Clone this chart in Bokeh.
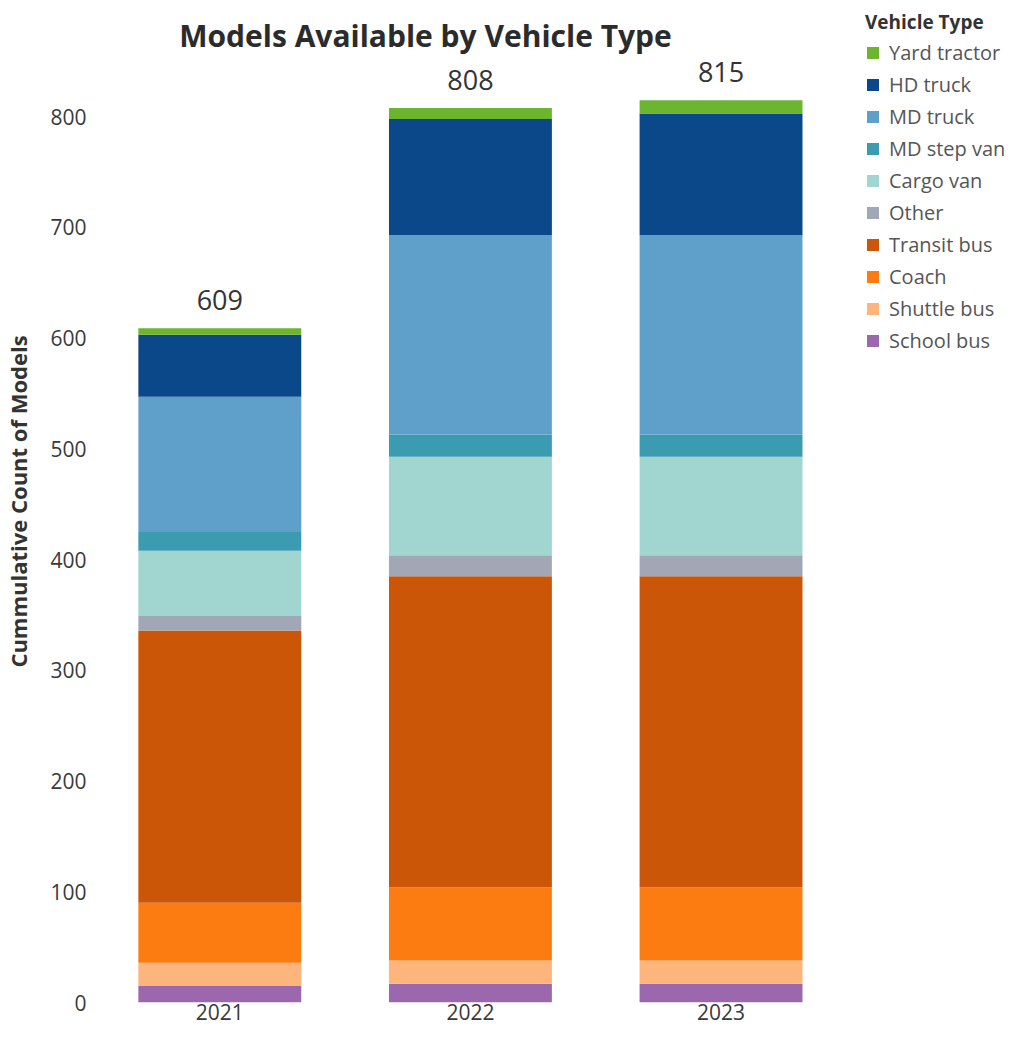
from bokeh.plotting import figure
from bokeh.models import Range1d, FixedTicker, Legend, LegendItem, ColumnDataSource, Label
from bokeh.core.properties import value
from bokeh.embed import file_html
from bokeh.resources import INLINE

years = [2021, 2022, 2023]
totals = [609, 808, 815]

# stack order: bottom -> top
types = ["School bus", "Shuttle bus", "Coach", "Transit bus", "Other",
         "Cargo van", "MD step van", "MD truck", "HD truck", "Yard tractor"]
school_bus = [15, 17, 17]
shuttle_bus = [21, 21, 21]
coach = [54, 66, 66]
transit_bus = [246, 281, 281]
other = [13, 19, 19]
cargo_van = [59, 89, 89]
md_step_van = [17, 20, 20]
md_truck = [122, 180, 180]
hd_truck = [56, 105, 110]
yard_tractor = [6, 10, 12]

colors = ["#9b68ad", "#fdb57c", "#fc7c12", "#cb5607", "#a2a7b6",
          "#a0d5d0", "#3b9bb1", "#5fa0cb", "#0b488a", "#6cb52e"]

FONT = "Open Sans"

data = dict(year=years, total=totals,
            **{"School bus": school_bus, "Shuttle bus": shuttle_bus, "Coach": coach,
               "Transit bus": transit_bus, "Other": other, "Cargo van": cargo_van,
               "MD step van": md_step_van, "MD truck": md_truck, "HD truck": hd_truck,
               "Yard tractor": yard_tractor})
src = ColumnDataSource(data)

p = figure(width=1007, height=1032, output_backend="svg", toolbar_location=None,
           x_range=Range1d(2020.5, 2024.143), y_range=Range1d(0, 905),
           min_border_left=89, min_border_right=0, min_border_top=0, min_border_bottom=30)

renderers = p.vbar_stack(types, x="year", width=0.65, color=colors, source=src,
                         line_color=None)

p.text(x="year", y="total", text="total", source=src, text_align="center",
       text_baseline="middle", y_offset=-28, text_font=value(FONT),
       text_font_size="27px", text_color="#333333")

title = Label(x=331, y=967, x_units="screen", y_units="screen",
              text="Models Available by Vehicle Type", text_align="center",
              text_baseline="middle", text_font=FONT, text_font_size="30px",
              text_font_style="bold", text_color="#2b2b2b")
p.add_layout(title)

p.xgrid.visible = False
p.ygrid.visible = False
p.outline_line_color = None

p.xaxis.ticker = FixedTicker(ticks=years)
p.yaxis.ticker = FixedTicker(ticks=[0, 100, 200, 300, 400, 500, 600, 700, 800])
for ax in (p.xaxis, p.yaxis):
    ax.axis_line_color = None
    ax.major_tick_line_color = None
    ax.minor_tick_line_color = None
    ax.major_tick_out = 0
    ax.major_tick_in = 0
    ax.minor_tick_out = 0
    ax.minor_tick_in = 0
    ax.major_label_text_font = FONT
    ax.major_label_text_font_size = "21px"
    ax.major_label_text_color = "#3a3a3a"
p.xaxis.major_label_standoff = 1
p.xaxis.axis_label_standoff = 0
p.yaxis.major_label_standoff = 8
p.yaxis.axis_label = "Cummulative Count of Models"
p.yaxis.axis_label_text_font = FONT
p.yaxis.axis_label_text_font_size = "22px"
p.yaxis.axis_label_text_font_style = "bold"
p.yaxis.axis_label_text_color = "#333333"
p.yaxis.axis_label_standoff = 14

items = [LegendItem(label=t, renderers=[r]) for t, r in zip(types, renderers)][::-1]
legend = Legend(items=items, location=(771, 648), title="Vehicle Type",
                title_text_font=FONT, title_text_font_size="19px",
                title_text_font_style="bold", title_text_color="#333333",
                title_standoff=4, label_text_font=FONT, label_text_font_size="20px",
                label_text_color="#555555", glyph_width=15, glyph_height=15,
                label_height=22, label_standoff=9, spacing=5, padding=0, margin=0,
                background_fill_alpha=0, border_line_color=None)
p.add_layout(legend, "center")

open("out.html", "w").write(file_html(p, INLINE))
